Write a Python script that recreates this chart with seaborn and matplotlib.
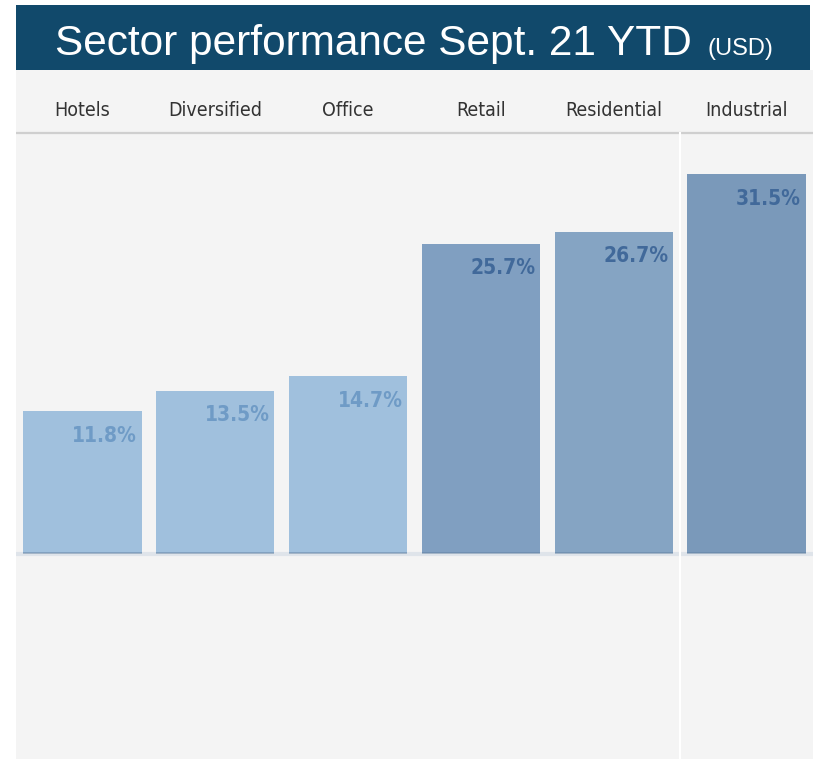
import matplotlib
matplotlib.use("Agg")
import matplotlib.pyplot as plt
from matplotlib.patches import Rectangle
import seaborn as sns
import pandas as pd

# Sector returns, year to date
sectors = ["Hotels", "Diversified", "Office", "Retail", "Residential", "Industrial"]
returns = [11.8, 13.5, 14.7, 25.7, 26.7, 31.5]
bar_colors = ["#a0c0dd", "#a0c0dd", "#a0c0dd", "#809fc1", "#85a4c3", "#7a99ba"]
label_colors = ["#6f9bc6", "#6f9bc6", "#6f9bc6", "#41699a", "#41699a", "#41699a"]

title = "Sector performance Sept. 21 YTD"
unit = "(USD)"

df = pd.DataFrame({"sector": sectors, "ret": returns})

W, H = 813, 759
fig = plt.figure(figsize=(W / 100, H / 100), dpi=100)
fig.patch.set_facecolor("white")

# Header banner
fig.patches.append(Rectangle((16 / W, 1 - 70 / H), (810 - 16) / W, 65 / H,
                             transform=fig.transFigure, facecolor="#11496b",
                             edgecolor="none", zorder=0))
fig.text(55 / W, 1 - 55 / H, title, color="white", fontsize=30.5,
         family="Liberation Sans", va="baseline", ha="left")
fig.text(707 / W, 1 - 55 / H, unit, color="white", fontsize=17,
         family="Liberation Sans", va="baseline", ha="left")

# Chart panel
ax = fig.add_axes([16 / W, 0, (W - 16) / W, (H - 70) / H])
ax.set_facecolor("#f4f4f4")
px_per_unit = 12.03
ymin = -(H - 553) / px_per_unit
ymax = (553 - 70) / px_per_unit

sns.barplot(data=df, x="sector", y="ret", hue="sector", palette=bar_colors,
            legend=False, width=0.89, saturation=1, ax=ax, zorder=2,
            edgecolor="none")
ax.set_xlim(-0.5, 5.5)
ax.set_ylim(ymin, ymax)

# Baseline, header rule and divider before the last column
ax.axhline(-0.05, color="#dfe4ea", lw=3, zorder=1)
ax.axhline((553 - 133) / px_per_unit, color="#cfcfcf", lw=1.6, zorder=1)
ax.plot([4.5, 4.5], [ymin, (553 - 133) / px_per_unit], color="white",
        lw=1.5, zorder=1.5)

# Darker foot on each bar
for p in ax.patches:
    ax.plot([p.get_x(), p.get_x() + p.get_width()], [p.get_y(), p.get_y()],
            color="#5f7e9f", lw=1.2, alpha=0.55, zorder=3,
            solid_capstyle="butt")

# Category labels above the bars
for i, s in enumerate(sectors):
    ax.text(i, (553 - 110) / px_per_unit, s, ha="center", va="center",
            fontsize=14, color="#333333", family="DejaVu Sans",
            fontstretch="condensed")

# Value labels inside the bars, top right
for i, v in enumerate(returns):
    ax.text(i + 0.445 - 0.035, v - 2.05, f"{v:.1f}%", ha="right", va="center",
            fontsize=15, fontweight="bold", color=label_colors[i],
            family="DejaVu Sans", fontstretch="condensed", zorder=4)

ax.set_xlabel("")
ax.set_ylabel("")
ax.set_xticks([])
ax.set_yticks([])
for sp in ax.spines.values():
    sp.set_visible(False)

fig.savefig("out.png", dpi=100, facecolor="white")
